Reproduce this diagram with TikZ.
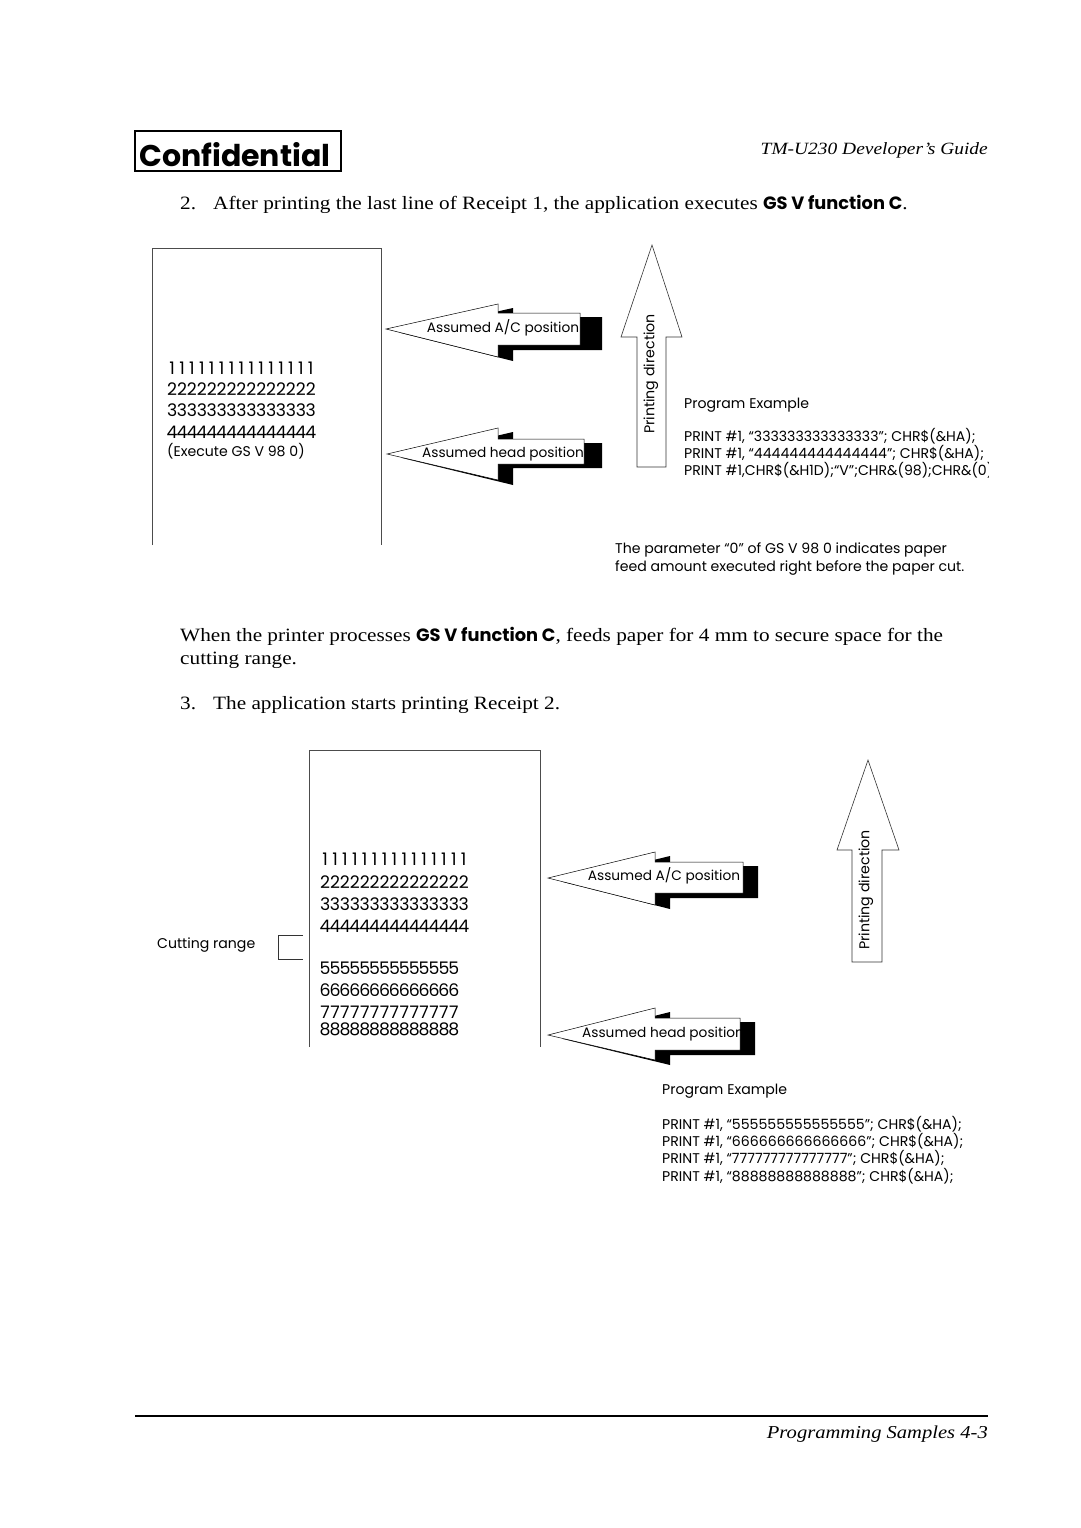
\documentclass[tikz,border=0pt]{standalone}
\usepackage{fontspec}
\setmainfont{Liberation Serif}[FakeStretch=1.13]
\newfontfamily\gothic{Poppins}
\newcommand\digs[2]{\foreach \i in {1,...,#1}{\makebox[9.9pt][c]{#2}}}
\begin{document}
\begin{tikzpicture}[x=1pt,y=-1pt,
  body/.style={font=\fontsize{18.8}{21}\selectfont, inner sep=0pt, anchor=base west},
  bold/.style={},
  lbl/.style={font=\gothic\fontsize{13.7}{15}\selectfont, inner sep=0pt},
  small/.style={font=\gothic\fontsize{14.1}{16}\selectfont, inner sep=0pt, anchor=base west},
  digits/.style={font=\gothic\fontsize{17.3}{19}\selectfont, inner sep=0pt, anchor=base west},
  paper/.style={draw=black!70, line width=0.9pt},
  callout/.style={draw=black, line width=0.5pt, fill=white},
  shadow/.style={fill=black},
  updir/.style={draw=black!80, line width=0.6pt, fill=white}]
\useasboundingbox (0,0) rectangle (1080,1528);

% header
\draw[line width=1.3pt] (135,131) rectangle (341,171);
\node[font=\gothic\bfseries\fontsize{30}{31}\selectfont, inner sep=0pt, anchor=base west] (conf) at (139,166) {Confidential};
\node[font=\itshape\fontsize{17.2}{20}\selectfont, inner sep=0pt, anchor=base east] (guide) at (988,154) {TM-U230 Developer’s Guide};

\node[body] (n2) at (180,209) {2.};
\node[body] (p2) at (213,209) {After printing the last line of Receipt 1, the application executes {\gothic\bfseries\fontsize{17.8}{18}\selectfont GS V function C}.};

% receipt 1
\draw[paper] (152,545) -- (152,248) -- (381,248) -- (381,545);
\node[digits] (r1a) at (167,374) {\digs{15}{1}};
\node[digits] (r1b) at (167,395) {\digs{15}{2}};
\node[digits] (r1c) at (167,416) {\digs{15}{3}};
\node[digits] (r1d) at (167,438) {\digs{15}{4}};
\node[small] (r1e) at (167,456) {(Execute GS V 98 0)};

% callout arrows top
\fill[shadow] (401,333) -- (513,308) -- (513,317) -- (602,317) -- (602,350) -- (513,350) -- (513,361) -- cycle;
\draw[callout] (386,329) -- (498,304) -- (498,313) -- (580,313) -- (580,345) -- (498,345) -- (498,357) -- cycle;
\node[lbl] (ac1) at (503,328) {Assumed A/C position};

\fill[shadow] (402,458) -- (513,432) -- (513,443) -- (602,443) -- (602,468) -- (513,468) -- (513,485) -- cycle;
\draw[callout] (387,454) -- (498,428) -- (498,439) -- (584,439) -- (584,464) -- (498,464) -- (498,480) -- cycle;
\node[lbl] (hd1) at (503,454) {Assumed head position};

% printing direction top
\draw[updir] (652,245) -- (682,337) -- (666,337) -- (666,467) -- (637,467) -- (637,337) -- (621,337) -- cycle;
\node[font=\gothic\fontsize{14.2}{16}\selectfont, inner sep=0pt, rotate=90] (pd1) at (651,374) {Printing direction};

% program example 1
\node[small] (pe1) at (684,408) {Program Example};
\begin{scope}
\clip (680,420) rectangle (988,480);
\node[small] (pe1a) at (684,441) {PRINT \#1, “333333333333333”; CHR\$(\&HA);};
\node[small] (pe1b) at (684,458) {PRINT \#1, “444444444444444”; CHR\$(\&HA);};
\node[small] (pe1c) at (684,475) {PRINT \#1,CHR\$(\&H1D);“V”;CHR\&(98);CHR\&(0);};
\end{scope}

\node[small] (note1) at (615,553) {The parameter “0” of GS V 98 0 indicates paper};
\node[small] (note2) at (615,571) {feed amount executed right before the paper cut.};

% paragraph
\node[body] (par1) at (180,641) {When the printer processes {\gothic\bfseries\fontsize{17.8}{18}\selectfont GS V function C}, feeds paper for 4 mm to secure space for the};
\node[body] (par2) at (180,664) {cutting range.};
\node[body] (n3) at (180,709) {3.};
\node[body] (p3) at (213,709) {The application starts printing Receipt 2.};

% receipt 2
\draw[paper] (309,1047) -- (309,750) -- (540,750) -- (540,1047);
\node[digits] (r2a) at (320,865) {\digs{15}{1}};
\node[digits] (r2b) at (320,888) {\digs{15}{2}};
\node[digits] (r2c) at (320,910) {\digs{15}{3}};
\node[digits] (r2d) at (320,932) {\digs{15}{4}};
\node[digits] (r2e) at (320,974) {\digs{14}{5}};
\node[digits] (r2f) at (320,996) {\digs{14}{6}};
\node[digits] (r2g) at (320,1018) {\digs{14}{7}};
\node[digits] (r2h) at (320,1035) {\digs{14}{8}};

\draw[black!80, line width=0.8pt] (303,935) -- (278,935) -- (278,959) -- (303,959);
\node[small] (cut) at (157,948) {Cutting range};

% callout arrows bottom
\fill[shadow] (563,882) -- (670,856) -- (670,866) -- (758,866) -- (758,898) -- (670,898) -- (670,909) -- cycle;
\draw[callout] (548,878) -- (655,852) -- (655,862) -- (743,862) -- (743,893) -- (655,893) -- (655,905) -- cycle;
\node[lbl] (ac2) at (664,876) {Assumed A/C position};

\fill[shadow] (563,1039) -- (670,1012) -- (670,1022) -- (755,1022) -- (755,1055) -- (670,1055) -- (670,1065) -- cycle;
\draw[callout] (548,1035) -- (655,1008) -- (655,1018) -- (740,1018) -- (740,1050) -- (655,1050) -- (655,1060) -- cycle;
\begin{scope}
\clip (548,1035) -- (655,1008) -- (655,1018) -- (740,1018) -- (740,1050) -- (655,1050) -- (655,1060) -- cycle;
\node[lbl, anchor=west] (hd2) at (582,1034) {Assumed head position};
\end{scope}

% printing direction bottom
\draw[updir] (868,760) -- (899,850) -- (882,850) -- (882,962) -- (852,962) -- (852,850) -- (837,850) -- cycle;
\node[font=\gothic\fontsize{14.2}{16}\selectfont, inner sep=0pt, rotate=90] (pd2) at (866,890) {Printing direction};

% program example 2
\node[small] (pe2) at (662,1094) {Program Example};
\node[small] (pe2a) at (662,1129) {PRINT \#1, “555555555555555”; CHR\$(\&HA);};
\node[small] (pe2b) at (662,1146) {PRINT \#1, “666666666666666”; CHR\$(\&HA);};
\node[small] (pe2c) at (662,1163) {PRINT \#1, “777777777777777”; CHR\$(\&HA);};
\node[small] (pe2d) at (662,1181) {PRINT \#1, “88888888888888”; CHR\$(\&HA);};

% footer
\draw[line width=1.5pt] (135,1416) -- (988,1416);
\node[font=\itshape\fontsize{18.2}{22}\selectfont, inner sep=0pt, anchor=base east] (foot) at (988,1438) {Programming Samples 4-3};
\end{tikzpicture}
\end{document}
